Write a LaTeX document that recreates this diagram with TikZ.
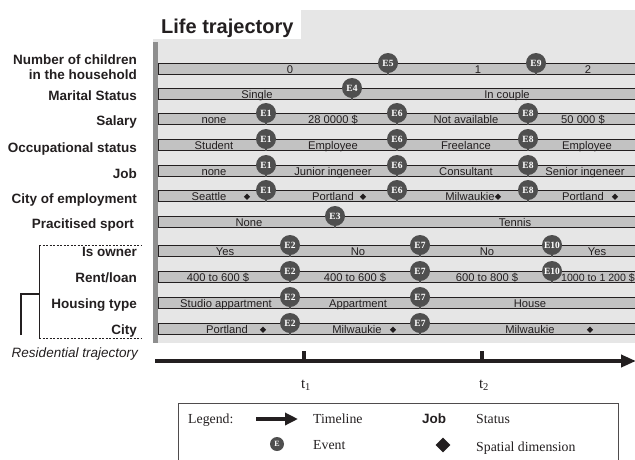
\documentclass[tikz,border=0pt]{standalone}
\usepackage{fontspec}
\setmainfont{Liberation Serif}
\setsansfont{Liberation Sans}
\usetikzlibrary{arrows.meta,shapes.geometric}
\definecolor{panel}{HTML}{E6E6E6}
\definecolor{barfill}{HTML}{C2C2C2}
\definecolor{strip}{HTML}{8E8E8E}
\definecolor{evfill}{HTML}{4F4F4F}
\definecolor{ink}{HTML}{231F20}
\newcommand\lbar[1]{%
  \fill[barfill] (158,#1-5.9) rectangle (640,#1+5.9);
  \draw[barline] (640,#1-5.9) -- (158,#1-5.9) -- (158,#1+5.9) -- (640,#1+5.9);}
\newcommand\lev[4]{%
  \node[evt] (#1) at (#2,#3-6) {#4};
  \draw[pinline] (#1.south) -- (#2,#3+5.9);}
\newcommand\lval[4]{\node[valtext] (#1) at (#2,#3+4.4) {#4};}
\newcommand\lspot[3]{\node[spot] (#1) at (#2,#3+0.8) {};}
\begin{document}
\begin{tikzpicture}[x=1pt,y=-1pt,
  rowlabel/.style={anchor=base east, font=\fontsize{13.5}{15}\selectfont\sffamily\bfseries, text=ink, inner sep=0pt, align=right},
  valtext/.style={anchor=base, font=\fontsize{11.2}{12}\selectfont\sffamily, text=ink, inner sep=0pt},
  evt/.style={circle, fill=evfill, minimum size=20pt, inner sep=0pt, text=white, font=\fontsize{9.5}{9.5}\selectfont\rmfamily\bfseries},
  pinline/.style={draw=evfill, line width=1.1pt},
  spot/.style={diamond, fill=ink, inner sep=0pt, minimum size=6.5pt},
  barline/.style={draw=ink, line width=0.9pt},
  legtext/.style={anchor=base west, font=\fontsize{13.8}{15}\selectfont\rmfamily, text=ink, inner sep=0pt},
  timeline/.style={draw=ink, line width=4pt, -{Triangle[length=15pt,width=12pt]}},
  tickmark/.style={draw=ink, line width=4pt},
  bracket/.style={draw=ink, line width=0.6pt, dash pattern=on 2pt off 1.5pt},
]
\useasboundingbox (0,0) rectangle (635,459);
% panel
\fill[panel] (153,10) rectangle (635,343);
\fill[white] (153,10) rectangle (301,39);
\fill[strip] (153,41.5) rectangle (157.5,343);
\node[anchor=base west, font=\fontsize{20}{22}\selectfont\sffamily\bfseries, text=ink, inner sep=0pt] (title) at (161,33) {Life trajectory};
% bars
\foreach \c in {69,94,119,145,171,196,222,251,277,303,329} {\lbar{\c}}
% row labels
\node[rowlabel] (l1) at (137,79) {Number of children\\in the household};
\node[rowlabel] (l2) at (137,100) {Marital Status};
\node[rowlabel] (l3) at (137,125) {Salary};
\node[rowlabel] (l4) at (137,152) {Occupational status};
\node[rowlabel] (l5) at (137,178) {Job};
\node[rowlabel] (l6) at (137,203) {City of employment};
\node[rowlabel] (l7) at (134,228) {Pracitised sport};
\node[rowlabel] (l8) at (137,256) {Is owner};
\node[rowlabel] (l9) at (137,282) {Rent/loan};
\node[rowlabel] (l10) at (137,308) {Housing type};
\node[rowlabel] (l11) at (137,334) {City};
\node[anchor=base east, font=\fontsize{13.5}{15}\selectfont\sffamily\itshape, text=ink, inner sep=0pt] (res) at (138,357.5) {Residential trajectory};
% bracket
\coordinate (bt0) at (39,245); \coordinate (bt1) at (142,245);
\coordinate (bb0) at (39,338); \coordinate (bb1) at (142,338);
\draw[bracket] (bt0) -- (bt1);
\draw[bracket] (bb0) -- (bb1);
\draw[draw=ink, line width=0.6pt] (bt0) -- (bb0);
\coordinate (bm) at (39,294); \coordinate (bk) at (21,294); \coordinate (bz) at (21,335);
\draw[draw=ink, line width=1.2pt] (bz) -- (bk) -- (bm);
% values
\lval{v1a}{290}{69}{0} \lval{v1b}{478}{69}{1} \lval{v1c}{588}{69}{2}
\lval{v2a}{257}{94}{Single} \lval{v2b}{507}{94}{In couple}
\lval{v3a}{214}{119}{none} \lval{v3b}{333}{119}{28 0000 \$} \lval{v3c}{466}{119}{Not available} \lval{v3d}{583}{119}{50 000 \$}
\lval{v4a}{214}{145}{Student} \lval{v4b}{333}{145}{Employee} \lval{v4c}{466}{145}{Freelance} \lval{v4d}{587}{145}{Employee}
\lval{v5a}{214}{171}{none} \lval{v5b}{333}{171}{Junior ingeneer} \lval{v5c}{466}{171}{Consultant} \lval{v5d}{585}{171}{Senior ingeneer}
\lval{v6a}{209}{196}{Seattle} \lval{v6b}{333}{196}{Portland} \lval{v6c}{470}{196}{Milwaukie} \lval{v6d}{583}{196}{Portland}
\lspot{s6a}{247}{196} \lspot{s6b}{363}{196} \lspot{s6c}{498}{196} \lspot{s6d}{615}{196}
\lval{v7a}{249}{222}{None} \lval{v7b}{515}{222}{Tennis}
\lval{v8a}{225}{251}{Yes} \lval{v8b}{358}{251}{No} \lval{v8c}{487}{251}{No} \lval{v8d}{597}{251}{Yes}
\lval{v9a}{218}{277}{400 to 600 \$} \lval{v9b}{355}{277}{400 to 600 \$} \lval{v9c}{487}{277}{600 to 800 \$}
\node[valtext, anchor=base west, font=\fontsize{10.6}{12}\selectfont\sffamily] (v9d) at (561,281.4) {1000 to 1 200 \$};
\lval{v10a}{226}{303}{Studio appartment} \lval{v10b}{358}{303}{Appartment} \lval{v10c}{530}{303}{House}
\lval{v11a}{227}{329}{Portland} \lval{v11b}{357}{329}{Milwaukie} \lval{v11c}{530}{329}{Milwaukie}
\lspot{s11a}{263}{329} \lspot{s11b}{393}{329} \lspot{s11c}{590}{329}
% events
\lev{e5}{388}{69}{E5} \lev{e9}{536}{69}{E9}
\lev{e4}{352}{94}{E4}
\lev{e1a}{266}{119}{E1} \lev{e6a}{397}{119}{E6} \lev{e8a}{528}{119}{E8}
\lev{e1b}{266}{145}{E1} \lev{e6b}{397}{145}{E6} \lev{e8b}{528}{145}{E8}
\lev{e1c}{266}{171}{E1} \lev{e6c}{397}{171}{E6} \lev{e8c}{528}{171}{E8}
\lev{e1d}{266}{196}{E1} \lev{e6d}{397}{196}{E6} \lev{e8d}{528}{196}{E8}
\lev{e3}{335}{222}{E3}
\lev{e2a}{290}{251}{E2} \lev{e7a}{420}{251}{E7} \lev{e10a}{552}{251}{E10}
\lev{e2b}{290}{277}{E2} \lev{e7b}{420}{277}{E7} \lev{e10b}{552}{277}{E10}
\lev{e2c}{290}{303}{E2} \lev{e7c}{420}{303}{E7}
\lev{e2d}{290}{329}{E2} \lev{e7d}{420}{329}{E7}
% timeline
\coordinate (tl0) at (155,361); \coordinate (tl1) at (636,361);
\draw[timeline] (tl0) -- (tl1);
\coordinate (t1b) at (304,361); \coordinate (t1t) at (304,350.5);
\coordinate (t2b) at (482,361); \coordinate (t2t) at (482,350.5);
\draw[tickmark] (t1b) -- (t1t);
\draw[tickmark] (t2b) -- (t2t);
\node[anchor=base, font=\fontsize{15}{16}\selectfont\rmfamily, text=ink, inner sep=0pt] (t1) at (306,388) {t\textsubscript{1}};
\node[anchor=base, font=\fontsize{15}{16}\selectfont\rmfamily, text=ink, inner sep=0pt] (t2) at (484,388) {t\textsubscript{2}};
% legend
\draw[draw=ink!80, line width=0.8pt] (178,403) rectangle (618,470);
\node[legtext] (lg) at (188,423) {Legend:};
\coordinate (la0) at (256,419); \coordinate (la1) at (298,419);
\draw[draw=ink, line width=4pt, -{Triangle[length=13pt,width=12pt]}] (la0) -- (la1);
\node[legtext] (lgt) at (313,423) {Timeline};
\node[anchor=base west, font=\fontsize{13.5}{15}\selectfont\sffamily\bfseries, text=ink, inner sep=0pt] (lgj) at (422,423) {Job};
\node[legtext] (lgs) at (476,423) {Status};
\node[circle, fill=evfill, minimum size=14pt, inner sep=0pt, text=white, font=\fontsize{8}{8}\selectfont\rmfamily\bfseries] (lge) at (277,444) {E};
\node[legtext] (lgev) at (313,449) {Event};
\node[diamond, fill=ink, inner sep=0pt, minimum size=15pt] (lgd) at (443,445) {};
\node[legtext] (lgsd) at (476,451) {Spatial dimension};
\end{tikzpicture}
\end{document}
